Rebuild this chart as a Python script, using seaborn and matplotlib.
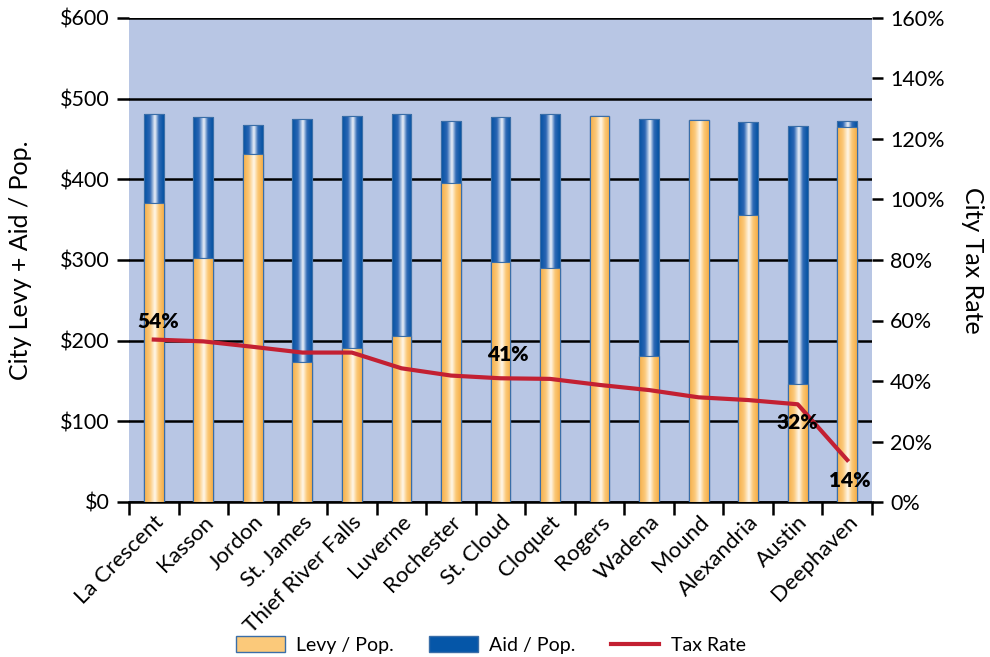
import numpy as np
import pandas as pd
import matplotlib
matplotlib.use("Agg")
import matplotlib.pyplot as plt
import seaborn as sns
from matplotlib.colors import LinearSegmentedColormap
from matplotlib.patches import Patch
from matplotlib.lines import Line2D

# Data
cities = ["La Crescent", "Kasson", "Jordon", "St. James", "Thief River Falls",
          "Luverne", "Rochester", "St. Cloud", "Cloquet", "Rogers", "Wadena",
          "Mound", "Alexandria", "Austin", "Deephaven"]
levy_per_pop = [371, 302, 431, 174, 191, 206, 396, 297, 290, 478, 181, 474, 356, 146, 465]
total_per_pop = [481, 477, 467, 475, 478, 481, 472, 477, 481, 478, 475, 474, 471, 466, 472]
tax_rate = [53.7, 53.1, 51.3, 49.4, 49.4, 44.2, 41.8, 40.9, 40.7, 38.7, 37.0, 34.6, 33.7, 32.3, 13.9]
rate_labels = {0: "54%", 7: "41%", 13: "32%", 14: "14%"}

df = pd.DataFrame({"city": cities, "levy": levy_per_pop,
                   "total": total_per_pop, "rate": tax_rate})

plt.rcParams["font.family"] = "Lato"

fig = plt.figure(figsize=(9.9, 6.57), dpi=100)
ax = fig.add_axes([129 / 990, 1 - 502 / 657, (872 - 129) / 990, (502 - 18) / 657])
ax.set_facecolor("#B8C6E4")

ORANGE = "#F7B24E"
BLUE = "#0556A8"
EDGE = "#3A6EA8"
RED = "#C32032"

sns.barplot(data=df, x="city", y="total", color=BLUE, width=0.4,
            edgecolor=EDGE, linewidth=0.8, ax=ax, zorder=3, saturation=1)
n_aid = len(ax.patches)
sns.barplot(data=df, x="city", y="levy", color=ORANGE, width=0.4,
            edgecolor=EDGE, linewidth=0.8, ax=ax, zorder=4, saturation=1)

# cylinder-like shading on each bar
cmap_blue = LinearSegmentedColormap.from_list(
    "b", [(0, "#0452A2"), (0.3, "#2B66B4"), (0.55, "#F2F5FB"), (0.75, "#2F6AB6"), (1, "#0452A2")])
cmap_or = LinearSegmentedColormap.from_list(
    "o", [(0, "#F6AE48"), (0.3, "#FBC97A"), (0.55, "#FFF8EC"), (0.75, "#FBC977"), (1, "#F6AE48")])
grad = np.linspace(0, 1, 64).reshape(1, -1)
for i, p in enumerate(list(ax.patches)):
    x0, y0 = p.get_x(), p.get_y()
    w, h = p.get_width(), p.get_height()
    cm = cmap_blue if i < n_aid else cmap_or
    im = ax.imshow(grad, extent=[x0, x0 + w, y0, y0 + h], aspect="auto",
                   cmap=cm, zorder=p.get_zorder() + 0.1, interpolation="bicubic")
    im.set_clip_path(p)
    ax.add_patch(plt.Rectangle((x0, y0), w, h, fill=False, edgecolor=EDGE,
                               linewidth=0.8, zorder=p.get_zorder() + 0.2))

ax.set_xlim(-0.5, len(cities) - 0.5)
ax.set_ylim(0, 600)
ax.set_yticks(range(0, 601, 100))
ax.set_yticklabels([f"${v}" for v in range(0, 601, 100)], fontsize=15.5)
ax.yaxis.grid(True, color="black", linewidth=1.8, zorder=1)
ax.set_axisbelow(True)
for s in ["left", "right", "top"]:
    ax.spines[s].set_visible(False)
ax.spines["bottom"].set_linewidth(1.8)
ax.tick_params(axis="y", length=9, width=1.8, pad=5)

# category ticks at boundaries
ax.set_xticks(np.arange(len(cities)))
ax.set_xticklabels(cities, rotation=45, ha="right", rotation_mode="anchor", fontsize=16)
ax.tick_params(axis="x", length=0, pad=7)
ax.set_xticks(np.arange(len(cities) + 1) - 0.5, minor=True)
ax.tick_params(axis="x", which="minor", length=9, width=1.8)
ax.set_xlabel("")
ax.set_ylabel("City Levy + Aid / Pop.", fontsize=18, labelpad=20)

# Tax rate on the right axis
ax2 = ax.twinx()
sns.lineplot(x=np.arange(len(cities)), y=df["rate"], color=RED,
             linewidth=3, ax=ax2, zorder=6)
ax2.set_ylim(0, 160)
ax2.set_yticks(range(0, 161, 20))
ax2.set_yticklabels([f"{v}%" for v in range(0, 161, 20)], fontsize=15.5)
ax2.tick_params(axis="y", length=8, width=1.8, pad=5)
for s in ax2.spines.values():
    s.set_visible(False)
ax2.set_ylabel("City Tax Rate", fontsize=18, rotation=270, labelpad=28)
ax2.set_xlim(-0.5, len(cities) - 0.5)

label_pos = {0: (0.1, 6), 7: (0.15, 10), 13: (0.0, -6), 14: (0.05, -8)}
for i, txt in rate_labels.items():
    dx, off = label_pos[i]
    va = "bottom" if off > 0 else "top"
    ax2.annotate(txt, (i + dx, tax_rate[i]), xytext=(0, off), textcoords="offset points",
                 ha="center", va=va, fontsize=15, fontweight="heavy", zorder=7)

handles = [
    Patch(facecolor="#FBC97A", edgecolor=EDGE, label="Levy / Pop."),
    Patch(facecolor=BLUE, edgecolor=EDGE, label="Aid / Pop."),
    Line2D([0], [0], color=RED, linewidth=3, label="Tax Rate"),
]
fig.legend(handles=handles, loc="center", bbox_to_anchor=(0.496, 1 - 645 / 657),
           ncol=3, frameon=False, fontsize=14, handlelength=2.5, handleheight=0.9,
           handletextpad=0.6, columnspacing=1.8)

fig.savefig("out.png", dpi=100)
